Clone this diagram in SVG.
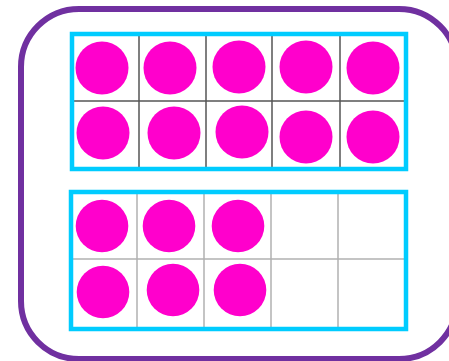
<svg xmlns="http://www.w3.org/2000/svg" width="449" height="361" viewBox="0 0 449 361">
<style>
.frame{fill:none;stroke:#00CCFF;stroke-width:4.5}
.g1{stroke:#555;stroke-width:1.5}
.g2{stroke:#b0b0b0;stroke-width:1.5}
.dot{fill:#FF00CC}
</style>
<rect width="449" height="361" fill="#fff"/>
<g id="outer"><rect x="21" y="9" width="436" height="350" rx="58" fill="none" stroke="#7030A0" stroke-width="6"/></g>
<g id="frame1">
<rect x="72" y="34" width="334" height="135" fill="#fff"/>
<g class="g1">
<line x1="139" y1="34" x2="139" y2="169"/><line x1="206" y1="34" x2="206" y2="169"/>
<line x1="272" y1="34" x2="272" y2="169"/><line x1="340" y1="34" x2="340" y2="169"/>
<line x1="72" y1="101" x2="406" y2="101"/>
</g>
<rect class="frame" x="72" y="34" width="334" height="135"/>
<circle class="dot" cx="102" cy="68" r="26.5"/>
<circle class="dot" cx="170" cy="68" r="26.5"/>
<circle class="dot" cx="239" cy="67" r="26.5"/>
<circle class="dot" cx="306" cy="67" r="26.5"/>
<circle class="dot" cx="373" cy="68" r="26.5"/>
<circle class="dot" cx="103" cy="133" r="26.5"/>
<circle class="dot" cx="174" cy="133" r="26.5"/>
<circle class="dot" cx="242" cy="132" r="26.5"/>
<circle class="dot" cx="306" cy="137" r="26.5"/>
<circle class="dot" cx="373" cy="137" r="26.5"/>
</g>
<g id="frame2">
<rect x="71" y="192" width="335" height="137" fill="#fff"/>
<g class="g2">
<line x1="137" y1="192" x2="137" y2="329"/><line x1="204" y1="192" x2="204" y2="329"/>
<line x1="271" y1="192" x2="271" y2="329"/><line x1="338" y1="192" x2="338" y2="329"/>
<line x1="71" y1="259" x2="406" y2="259"/>
</g>
<rect class="frame" x="71" y="192" width="335" height="137"/>
<circle class="dot" cx="102" cy="226" r="26.3"/>
<circle class="dot" cx="169" cy="226" r="26.3"/>
<circle class="dot" cx="238" cy="226" r="26.3"/>
<circle class="dot" cx="103" cy="292" r="26.3"/>
<circle class="dot" cx="173" cy="290" r="26.3"/>
<circle class="dot" cx="240" cy="290" r="26.3"/>
</g>
</svg>
